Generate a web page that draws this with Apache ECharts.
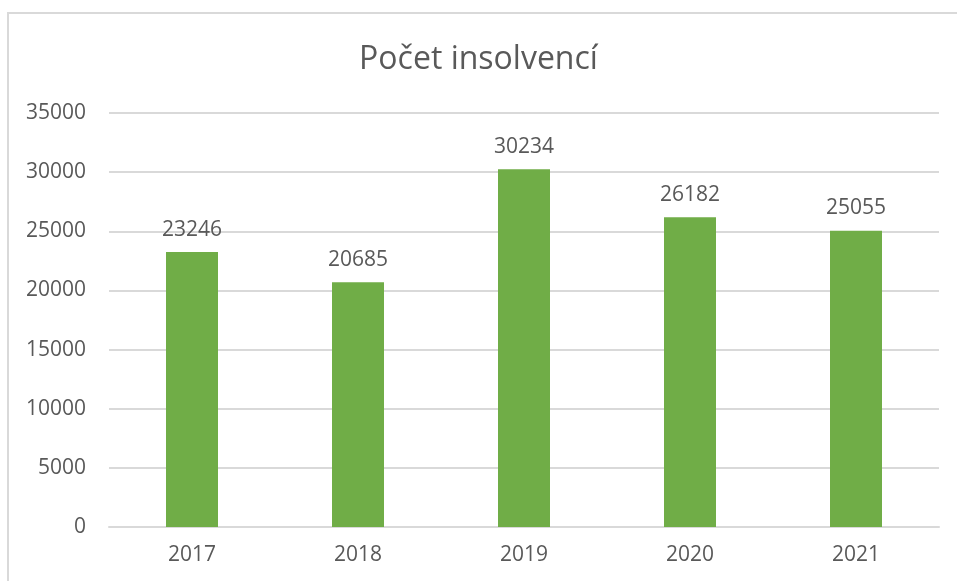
<!DOCTYPE html>
<html>
<head>
<meta charset="utf-8">
<script src="https://cdn.jsdelivr.net/npm/echarts@6/dist/echarts.min.js"></script>
<style>
  html, body { margin: 0; padding: 0; background: #fff; }
  #main { width: 957px; height: 581px; }
</style>
</head>
<body>
<div id="main"></div>
<script>
var years = ['2017', '2018', '2019', '2020', '2021'];
var insolvencies = [23246, 20685, 30234, 26182, 25055];
var yTicks = [0, 5000, 10000, 15000, 20000, 25000, 30000, 35000];

var chartDom = document.getElementById('main');
var myChart = echarts.init(chartDom);
var option;

var textColor = '#595959';
var fontFamily = '"Open Sans", sans-serif';

option = {
    backgroundColor: '#fff',
    animation: false,
    title: {
        text: 'Počet insolvencí',
        left: 'center',
        top: 39,
        textStyle: {
            color: textColor,
            fontFamily: fontFamily,
            fontSize: 32,
            fontWeight: 'normal'
        }
    },
    graphic: [
        {
            type: 'rect',
            shape: { x: 8, y: 13, width: 970, height: 600 },
            style: { fill: 'none', stroke: '#d9d9d9', lineWidth: 2 },
            silent: true
        }
    ],
    grid: {
        left: 109,
        right: 18,
        top: 113,
        bottom: 54
    },
    xAxis: {
        type: 'category',
        data: years,
        axisTick: { show: false },
        axisLine: { lineStyle: { color: '#d9d9d9', width: 2 } },
        axisLabel: {
            color: textColor,
            fontFamily: fontFamily,
            fontSize: 21,
            margin: 18
        }
    },
    yAxis: {
        type: 'value',
        min: yTicks[0],
        max: yTicks[yTicks.length - 1],
        interval: yTicks[1] - yTicks[0],
        axisLine: { show: false },
        axisTick: { show: false },
        axisLabel: {
            color: textColor,
            fontFamily: fontFamily,
            fontSize: 21,
            margin: 23,
            formatter: function (v) { return String(v); }
        },
        splitLine: { lineStyle: { color: '#d9d9d9', width: 2 } }
    },
    series: [
        {
            name: 'Počet insolvencí',
            type: 'bar',
            data: insolvencies,
            barWidth: 52,
            itemStyle: { color: '#70ad47' },
            label: {
                show: true,
                position: 'top',
                distance: 12,
                color: textColor,
                fontFamily: fontFamily,
                fontSize: 21
            }
        }
    ]
};

option && myChart.setOption(option);
</script>
</body>
</html>
